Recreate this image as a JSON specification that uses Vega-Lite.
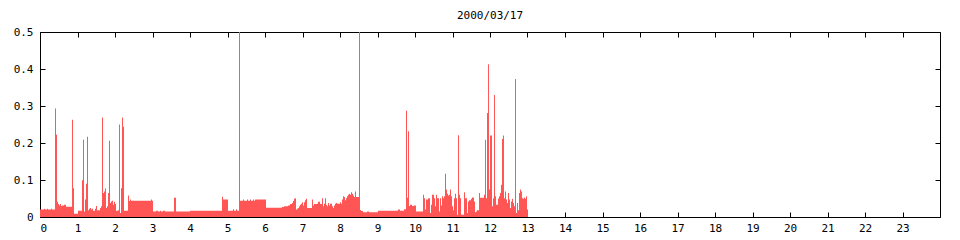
{
  "$schema": "https://vega.github.io/schema/vega-lite/v6.json",
  "width": 900,
  "height": 185,
  "autosize": "none",
  "padding": {"left": 40, "top": 32, "right": 20, "bottom": 23},
  "background": "white",
  "config": {
    "view": {"stroke": "black", "strokeWidth": 1},
    "font": "DejaVu Sans Mono",
    "axis": {"labelFont": "DejaVu Sans Mono", "labelFontSize": 11, "labelColor": "black", "tickColor": "black", "domain": false, "grid": false, "title": null, "tickSize": -5, "tickWidth": 1}
  },
  "title": {"text": "2000/03/17", "font": "DejaVu Sans Mono", "fontSize": 11, "fontWeight": "normal", "color": "black", "offset": 5, "anchor": "middle"},
  "data": {"values": [
    {"t":0,"v":0.02},{"t":0.107,"v":0.022},{"t":0.133,"v":0.02},{"t":0.187,"v":0.022},{"t":0.213,"v":0.02},{"t":0.293,"v":0.022},{"t":0.32,"v":0.02},
    {"t":0.4,"v":0.293},{"t":0.427,"v":0.222},{"t":0.453,"v":0.041},{"t":0.48,"v":0.035},{"t":0.507,"v":0.031},{"t":0.533,"v":0.035},{"t":0.56,"v":0.03},{"t":0.587,"v":0.031},{"t":0.64,"v":0.033},{"t":0.693,"v":0.028},
    {"t":0.853,"v":0.263},{"t":0.88,"v":0.078},{"t":0.907,"v":0.009},{"t":1.013,"v":0.017},{"t":1.12,"v":0.099},{"t":1.147,"v":0.209},{"t":1.173,"v":0.015},{"t":1.2,"v":0.047},{"t":1.227,"v":0.09},{"t":1.253,"v":0.217},
    {"t":1.28,"v":0.018},{"t":1.307,"v":0.022},{"t":1.333,"v":0.024},{"t":1.36,"v":0.02},{"t":1.387,"v":0.022},{"t":1.413,"v":0.017},{"t":1.467,"v":0.022},{"t":1.493,"v":0.03},{"t":1.52,"v":0.018},{"t":1.6,"v":0.024},{"t":1.627,"v":0.029},
    {"t":1.653,"v":0.269},{"t":1.68,"v":0.065},{"t":1.707,"v":0.069},{"t":1.733,"v":0.077},{"t":1.76,"v":0.024},{"t":1.787,"v":0.029},{"t":1.813,"v":0.065},{"t":1.84,"v":0.206},{"t":1.867,"v":0.038},{"t":1.893,"v":0.042},{"t":1.92,"v":0.044},{"t":1.947,"v":0.033},{"t":1.973,"v":0.041},{"t":2.0,"v":0.035},
    {"t":2.027,"v":0.017},{"t":2.08,"v":0.018},{"t":2.107,"v":0.25},{"t":2.133,"v":0.011},{"t":2.16,"v":0.078},{"t":2.187,"v":0.269},{"t":2.213,"v":0.244},{"t":2.24,"v":0.017},
    {"t":2.347,"v":0.058},{"t":2.373,"v":0.043},{"t":2.4,"v":0.047},{"t":2.427,"v":0.044},{"t":2.96,"v":0.047},{"t":2.987,"v":0.044},
    {"t":3.013,"v":0.015},{"t":3.093,"v":0.017},{"t":3.147,"v":0.015},{"t":3.2,"v":0.017},{"t":3.227,"v":0.015},{"t":3.28,"v":0.017},{"t":3.333,"v":0.015},{"t":3.573,"v":0.052},{"t":3.627,"v":0.015},
    {"t":4.0,"v":0.017},{"t":4.853,"v":0.055},{"t":4.88,"v":0.047},{"t":5.013,"v":0.017},{"t":5.147,"v":0.021},{"t":5.173,"v":0.017},{"t":5.227,"v":0.021},{"t":5.253,"v":0.017},
    {"t":5.307,"v":0.5},{"t":5.333,"v":0.044},{"t":5.413,"v":0.047},{"t":5.44,"v":0.044},{"t":5.52,"v":0.047},{"t":5.547,"v":0.044},{"t":5.6,"v":0.047},{"t":5.627,"v":0.044},{"t":5.68,"v":0.047},{"t":5.707,"v":0.044},{"t":5.733,"v":0.047},
    {"t":6.027,"v":0.025},{"t":6.453,"v":0.027},{"t":6.507,"v":0.029},{"t":6.613,"v":0.031},{"t":6.667,"v":0.035},{"t":6.72,"v":0.038},{"t":6.747,"v":0.043},{"t":6.773,"v":0.049},{"t":6.8,"v":0.051},
    {"t":6.827,"v":0.02},{"t":6.853,"v":0.022},{"t":6.88,"v":0.024},{"t":6.907,"v":0.029},{"t":6.933,"v":0.033},{"t":6.96,"v":0.036},{"t":6.987,"v":0.04},{"t":7.013,"v":0.031},{"t":7.04,"v":0.04},{"t":7.067,"v":0.045},{"t":7.093,"v":0.049},
    {"t":7.12,"v":0.024},{"t":7.253,"v":0.047},{"t":7.28,"v":0.031},{"t":7.307,"v":0.035},{"t":7.387,"v":0.036},{"t":7.413,"v":0.041},{"t":7.467,"v":0.035},{"t":7.52,"v":0.051},{"t":7.547,"v":0.029},{"t":7.573,"v":0.036},{"t":7.6,"v":0.051},
    {"t":7.627,"v":0.033},{"t":7.653,"v":0.029},{"t":7.68,"v":0.038},{"t":7.707,"v":0.031},{"t":7.733,"v":0.036},{"t":7.787,"v":0.029},{"t":7.813,"v":0.024},{"t":7.84,"v":0.031},{"t":7.867,"v":0.036},{"t":7.893,"v":0.038},{"t":7.92,"v":0.036},
    {"t":8.0,"v":0.04},{"t":8.027,"v":0.036},{"t":8.053,"v":0.047},{"t":8.08,"v":0.056},{"t":8.107,"v":0.054},{"t":8.133,"v":0.045},{"t":8.16,"v":0.051},{"t":8.187,"v":0.056},{"t":8.213,"v":0.06},{"t":8.24,"v":0.063},{"t":8.267,"v":0.06},
    {"t":8.293,"v":0.067},{"t":8.32,"v":0.063},{"t":8.347,"v":0.058},{"t":8.373,"v":0.054},{"t":8.4,"v":0.069},{"t":8.427,"v":0.054},{"t":8.507,"v":0.5},{"t":8.533,"v":0.019},{"t":8.56,"v":0.016},{"t":8.613,"v":0.013},{"t":8.72,"v":0.015},{"t":8.773,"v":0.013},
    {"t":9.013,"v":0.017},{"t":9.547,"v":0.02},{"t":9.6,"v":0.017},{"t":9.707,"v":0.021},{"t":9.76,"v":0.287},{"t":9.787,"v":0.052},{"t":9.813,"v":0.232},{"t":9.84,"v":0.03},{"t":9.867,"v":0.033},{"t":9.92,"v":0.03},{"t":9.973,"v":0.031},
    {"t":10.027,"v":0.015},{"t":10.213,"v":0.06},{"t":10.24,"v":0.051},{"t":10.267,"v":0.02},{"t":10.293,"v":0.047},{"t":10.347,"v":0.051},{"t":10.4,"v":0.011},{"t":10.427,"v":0.033},{"t":10.453,"v":0.06},{"t":10.507,"v":0.051},{"t":10.533,"v":0.029},
    {"t":10.56,"v":0.06},{"t":10.587,"v":0.051},{"t":10.64,"v":0.015},{"t":10.667,"v":0.051},{"t":10.693,"v":0.031},{"t":10.72,"v":0.056},{"t":10.747,"v":0.051},{"t":10.773,"v":0.056},{"t":10.8,"v":0.117},{"t":10.827,"v":0.074},{"t":10.853,"v":0.063},
    {"t":10.88,"v":0.058},{"t":10.907,"v":0.06},{"t":10.933,"v":0.074},{"t":10.96,"v":0.056},{"t":10.987,"v":0.029},{"t":11.013,"v":0.018},{"t":11.04,"v":0.051},{"t":11.067,"v":0.063},{"t":11.093,"v":0.051},{"t":11.12,"v":0.006},{"t":11.147,"v":0.221},
    {"t":11.173,"v":0.06},{"t":11.2,"v":0.051},{"t":11.227,"v":0.006},{"t":11.307,"v":0.067},{"t":11.333,"v":0.051},{"t":11.387,"v":0.011},{"t":11.413,"v":0.042},{"t":11.44,"v":0.045},{"t":11.493,"v":0.049},{"t":11.52,"v":0.053},{"t":11.573,"v":0.042},
    {"t":11.6,"v":0.013},{"t":11.627,"v":0.015},{"t":11.653,"v":0.018},{"t":11.707,"v":0.065},{"t":11.733,"v":0.052},{"t":11.84,"v":0.06},{"t":11.867,"v":0.209},{"t":11.893,"v":0.051},{"t":11.92,"v":0.281},{"t":11.947,"v":0.413},{"t":11.973,"v":0.074},
    {"t":12.0,"v":0.22},{"t":12.053,"v":0.029},{"t":12.08,"v":0.051},{"t":12.107,"v":0.33},{"t":12.133,"v":0.056},{"t":12.16,"v":0.033},{"t":12.213,"v":0.05},{"t":12.24,"v":0.056},{"t":12.267,"v":0.065},{"t":12.293,"v":0.087},{"t":12.32,"v":0.211},
    {"t":12.347,"v":0.22},{"t":12.373,"v":0.051},{"t":12.4,"v":0.069},{"t":12.427,"v":0.047},{"t":12.453,"v":0.038},{"t":12.48,"v":0.065},{"t":12.507,"v":0.047},{"t":12.533,"v":0.024},{"t":12.56,"v":0.042},{"t":12.587,"v":0.049},{"t":12.613,"v":0.038},
    {"t":12.64,"v":0.029},{"t":12.667,"v":0.373},{"t":12.693,"v":0.011},{"t":12.72,"v":0.038},{"t":12.747,"v":0.018},{"t":12.773,"v":0.065},{"t":12.8,"v":0.074},{"t":12.827,"v":0.069},{"t":12.853,"v":0.051},{"t":12.88,"v":0.049},{"t":12.907,"v":0.053},
    {"t":12.933,"v":0.049},{"t":12.96,"v":0.056},{"t":12.987,"v":0.02},{"t":13.013,"v":0}
  ]},
  "layer": [
    {
      "mark": {"type": "area", "interpolate": "step-after", "color": "#ff5555", "clip": true},
      "encoding": {
        "x": {"field": "t", "type": "quantitative", "scale": {"domain": [0, 24], "nice": false, "zero": false},
              "axis": {"orient": "bottom", "values": [0,1,2,3,4,5,6,7,8,9,10,11,12,13,14,15,16,17,18,19,20,21,22,23], "labelPadding": 10, "labelAngle": 0}},
        "y": {"field": "v", "type": "quantitative", "scale": {"domain": [0, 0.5], "nice": false},
              "axis": {"orient": "left", "values": [0, 0.1, 0.2, 0.3, 0.4, 0.5], "format": "~g", "labelPadding": 12}}
      }
    },
    {
      "mark": {"type": "area", "interpolate": "step-after", "opacity": 0},
      "encoding": {
        "x": {"field": "t", "type": "quantitative", "axis": {"orient": "top", "labels": false, "values": [0,1,2,3,4,5,6,7,8,9,10,11,12,13,14,15,16,17,18,19,20,21,22,23]}},
        "y": {"field": "v", "type": "quantitative", "axis": {"orient": "right", "labels": false, "values": [0, 0.1, 0.2, 0.3, 0.4, 0.5]}}
      }
    }
  ],
  "resolve": {"axis": {"x": "independent", "y": "independent"}}
}
